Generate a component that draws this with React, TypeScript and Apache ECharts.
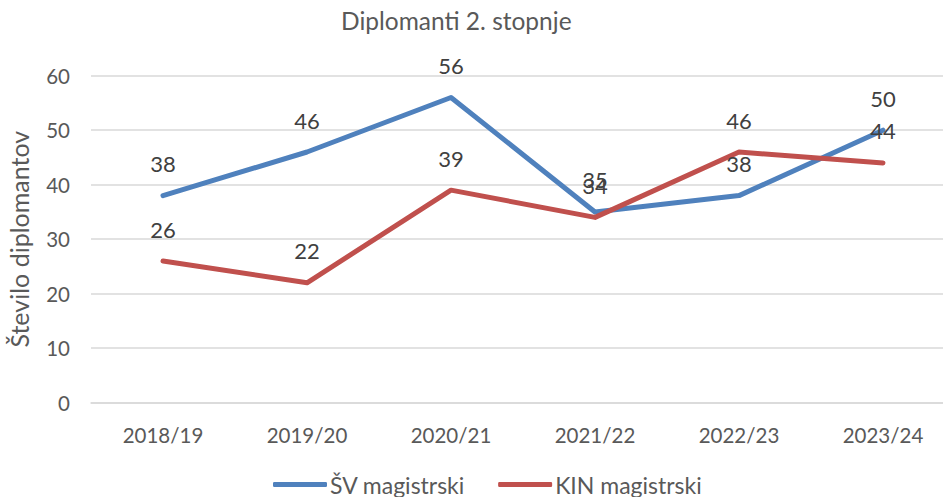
import React, { useEffect, useRef } from "react";
import * as echarts from "echarts";

const categories = ["2018/19", "2019/20", "2020/21", "2021/22", "2022/23", "2023/24"];
const svValues = [38, 46, 56, 35, 38, 50];
const kinValues = [26, 22, 39, 34, 46, 44];
const seriesNames = ["ŠV magistrski", "KIN magistrski"];
const seriesColors = ["#4F81BD", "#C0504D"];
const titleText = "Diplomanti 2. stopnje";
const yAxisName = "Število diplomantov";

const FONT = "Lato, 'Open Sans', sans-serif";

export default function App() {
  const ref = useRef<HTMLDivElement>(null);
  useEffect(() => {
    if (!ref.current) return;
    const chart = echarts.init(ref.current, undefined, { renderer: "svg" });
    const labelStyle = {
      show: true,
      position: "top" as const,
      distance: 21,
      color: "#404040",
      fontSize: 22,
      fontFamily: FONT,
    };
    const mkSeries = (i: number, values: number[]) => ({
      name: seriesNames[i],
      type: "line",
      data: values,
      symbol: "circle",
      symbolSize: 0,
      showSymbol: true,
      itemStyle: { color: seriesColors[i] },
      lineStyle: { color: seriesColors[i], width: 5, cap: "round", join: "round" },
      label: labelStyle,
      labelLayout: { hideOverlap: false },
    });
    chart.setOption({
      animation: false,
      backgroundColor: "#ffffff",
      color: seriesColors,
      textStyle: { fontFamily: FONT },
      title: {
        text: titleText,
        left: 336,
        top: 3,
        textStyle: { color: "#595959", fontSize: 24.5, fontWeight: "normal", fontFamily: FONT },
      },
      legend: {
        bottom: -4,
        left: 268,
        itemWidth: 54,
        itemHeight: 5,
        itemGap: 33,
        icon: "roundRect",
        textStyle: { color: "#595959", fontSize: 23, fontFamily: FONT, padding: [0, 0, 0, -2] },
        data: seriesNames.map((n, i) => ({ name: n, itemStyle: { color: seriesColors[i] } })),
      },
      grid: {
        left: 91,
        width: 864,
        top: 75.7,
        bottom: 94.3,
        containLabel: false,
        outerBoundsMode: "none",
      },
      xAxis: {
        type: "category",
        data: categories,
        boundaryGap: true,
        axisLine: { show: true, lineStyle: { color: "#D9D9D9", width: 1.5 } },
        axisTick: { show: false },
        axisLabel: { color: "#595959", fontSize: 20.5, fontFamily: FONT, margin: 22 },
      },
      yAxis: {
        type: "value",
        min: 0,
        max: 60,
        interval: 10,
        name: yAxisName,
        nameLocation: "middle",
        nameGap: 60,
        nameRotate: 90,
        nameTextStyle: { color: "#595959", fontSize: 25, fontFamily: FONT },
        axisLine: { show: false },
        axisTick: { show: false },
        splitLine: { lineStyle: { color: "#D9D9D9", width: 1.5 } },
        axisLabel: { color: "#595959", fontSize: 20.5, fontFamily: FONT, margin: 21 },
      },
      series: [mkSeries(0, svValues), mkSeries(1, kinValues)],
    });
    return () => chart.dispose();
  }, []);
  return <div ref={ref} style={{ width: 943, height: 497, position: "absolute", left: 0, top: 0 }} />;
}
